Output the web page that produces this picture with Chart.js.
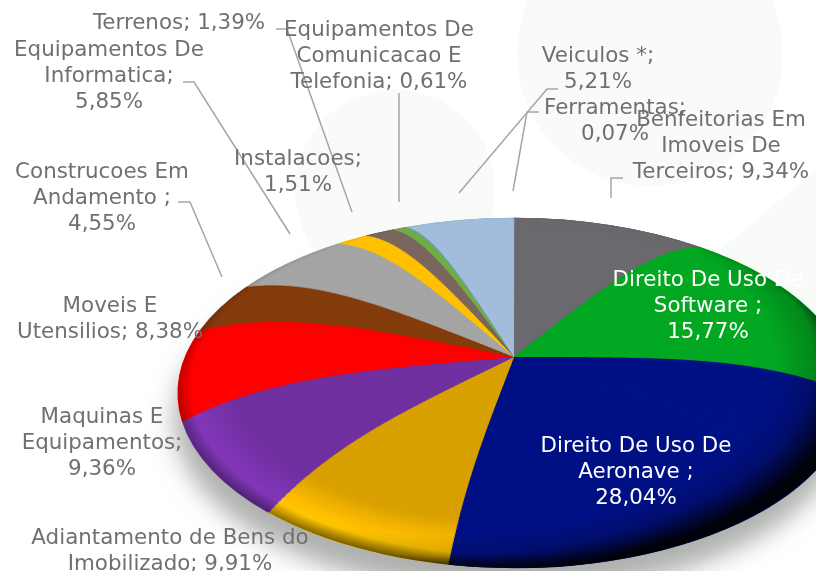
<!DOCTYPE html>
<html>
<head>
<meta charset="utf-8">
<style>
  html, body { margin: 0; padding: 0; background: #fff; }
  canvas { display: block; }
</style>
<script src="https://cdn.jsdelivr.net/npm/chart.js@4"></script>
</head>
<body>
<canvas id="imobilizadoChart" width="816" height="571"></canvas>
<script>
// Values, clockwise from 12 o'clock
const categories = [
    'Benfeitorias Em Imoveis De Terceiros', 'Direito De Uso De Software', 'Direito De Uso De Aeronave',
    'Adiantamento de Bens do Imobilizado', 'Maquinas E Equipamentos', 'Moveis E Utensilios',
    'Construcoes Em Andamento', 'Equipamentos De Informatica', 'Instalacoes', 'Terrenos',
    'Equipamentos De Comunicacao E Telefonia', 'Ferramentas', 'Veiculos *'
];
const percentages = [9.34, 15.77, 28.04, 9.91, 9.36, 8.38, 4.55, 5.85, 1.51, 1.39, 0.61, 0.07, 5.21];
const sliceColors = ['#6b6a6e', '#03a822', '#001185', '#d8a000', '#7030a0', '#ff0000', '#843c0c',
    '#a5a5a5', '#ffc000', '#7a675e', '#70ad47', '#5b9bd5', '#a3bcdc'];
// how much the rim of each slice lights up near the edge
const rimLight = [1, 1, 1, 1.24, 1.16, 1, 1, 1, 1, 1, 1, 1, 1];

// Label text, {v} is replaced with the value
const labelLines = [
    ['Benfeitorias Em', 'Imoveis De', 'Terceiros; {v}'],
    ['Direito De Uso De', 'Software ;', '{v}'],
    ['Direito De Uso De', 'Aeronave ;', '{v}'],
    ['Adiantamento de Bens do', 'Imobilizado; {v}'],
    ['Maquinas E', 'Equipamentos;', '{v}'],
    ['Moveis E', 'Utensilios; {v}'],
    ['Construcoes Em', 'Andamento ;', '{v}'],
    ['Equipamentos De', 'Informatica;', '{v}'],
    ['Instalacoes;', '{v}'],
    ['Terrenos; {v}'],
    ['Equipamentos De', 'Comunicacao E', 'Telefonia; {v}'],
    ['Ferramentas;', '{v}'],
    ['Veiculos *;', '{v}']
];
const labelCenters = [[721, 120], [708, 280], [636, 446], [170, 538], [102, 417], [110, 306], [102, 172],
    [109, 50], [298, 159], [179, 23], [379, 30], [615, 108], [598, 56]];
const leaderLines = [
    [[623, 178], [611, 178], [611, 198]],
    [[276, 29], [287, 29], [352, 212]],
    [[183, 82], [194, 82], [290, 234]],
    [[178, 202], [190, 202], [222, 277]],
    [[399, 93], [399, 202]],
    [[558, 89], [547, 89], [459, 193]],
    [[539, 112], [527, 112], [513, 191]]
];

// Where the pie sits: the rim is an ellipse, the slices meet above its centre
const rim = { x: 514, y: 393, rx: 336, ry: 175 };
const apexY = 357;
const shellCount = 180;

function rimPath(ctx) {
    ctx.beginPath();
    ctx.ellipse(rim.x, rim.y, rim.rx, rim.ry, 0, 0, Math.PI * 2);
}

// fills the pie with an elliptical gradient, centred dx/dy off the rim centre
function shadeRim(ctx, dx, dy, from, to, stops) {
    ctx.save();
    rimPath(ctx);
    ctx.clip();
    ctx.translate(rim.x + dx, rim.y + dy);
    ctx.scale(rim.rx, rim.ry);
    const shade = ctx.createRadialGradient(0, 0, from, 0, 0, to);
    stops.forEach(s => shade.addColorStop(s[0], s[1]));
    ctx.fillStyle = shade;
    ctx.fillRect(-2, -2, 4, 4);
    ctx.restore();
}

const backdrop = {
    id: 'backdrop',
    beforeDraw(chart) {
        const ctx = chart.ctx;
        ctx.save();
        ctx.fillStyle = '#ffffff';
        ctx.fillRect(0, 0, 816, 571);
        ctx.fillStyle = '#f8fbf8';
        ctx.beginPath();
        ctx.arc(650, 53, 133, 0, Math.PI * 2);
        ctx.fill();
        ctx.beginPath();
        ctx.arc(395, 190, 100, 0, Math.PI * 2);
        ctx.fill();
        ctx.beginPath();
        ctx.moveTo(816, 170);
        ctx.lineTo(816, 330);
        ctx.lineTo(720, 250);
        ctx.fill();
        // soft shadow below the pie
        ctx.shadowColor = 'rgba(120, 125, 120, 0.6)';
        ctx.shadowBlur = 24;
        ctx.shadowOffsetX = -4;
        ctx.shadowOffsetY = 26;
        ctx.fillStyle = '#c0c4c0';
        rimPath(ctx);
        ctx.fill();
        ctx.restore();
    }
};

// Draws the chart's own arcs as nested shells, so the slice edges bend towards the rim
const tiltedPie = {
    id: 'tiltedPie',
    beforeDatasetDraw(chart, args) {
        const ctx = chart.ctx;
        const arcs = args.meta.data;
        const px = arcs[0].x, py = arcs[0].y, radius = arcs[0].outerRadius;
        ctx.save();
        for (let s = shellCount; s > 0; s--) {
            const r = s / shellCount;
            const shiftY = (rim.y - apexY) * Math.pow(r, 4);
            ctx.save();
            ctx.translate(rim.x, apexY + shiftY);
            ctx.scale(r * rim.rx / radius, r * rim.ry / radius);
            ctx.translate(-px, -py);
            arcs.forEach((arc, i) => {
                let glow = 1;
                if (r > 0.84 && rimLight[i] !== 1) {
                    glow = 1 + (rimLight[i] - 1) * Math.min((r - 0.84) / 0.12, 1);
                }
                ctx.filter = glow !== 1 ? 'brightness(' + glow + ')' : 'none';
                arc.draw(ctx);
            });
            ctx.filter = 'none';
            ctx.restore();
        }
        ctx.restore();

        // dark crescent along the lower right of the rim
        shadeRim(ctx, -70, -30, 0.98, 1.22, [[0, 'rgba(0,0,0,0)'], [0.5, 'rgba(0,0,0,0.18)'], [1, 'rgba(0,0,0,0.9)']]);
        // thin dark lip on the lower edge
        shadeRim(ctx, 0, -6, 0.96, 1.03, [[0, 'rgba(0,0,0,0)'], [1, 'rgba(0,0,0,0.45)']]);
        return false;
    }
};

const pieLabels = {
    id: 'pieLabels',
    afterDatasetsDraw(chart) {
        const ctx = chart.ctx;
        ctx.save();
        ctx.strokeStyle = '#a6a6a6';
        ctx.lineWidth = 1.5;
        leaderLines.forEach(pts => {
            ctx.beginPath();
            pts.forEach((p, i) => i ? ctx.lineTo(p[0], p[1]) : ctx.moveTo(p[0], p[1]));
            ctx.stroke();
        });
        ctx.font = '21.4px "DejaVu Sans"';
        ctx.textAlign = 'center';
        ctx.textBaseline = 'middle';
        labelLines.forEach((lines, i) => {
            const value = percentages[i].toFixed(2).replace('.', ',') + '%';
            ctx.fillStyle = (i === 1 || i === 2) ? '#ffffff' : '#707070';
            lines.forEach((line, n) => {
                ctx.fillText(line.replace('{v}', value), labelCenters[i][0], labelCenters[i][1] + n * 26);
            });
        });
        ctx.restore();
    }
};

new Chart(document.getElementById('imobilizadoChart').getContext('2d'), {
    type: 'pie',
    data: {
        labels: categories,
        datasets: [{
            data: percentages,
            backgroundColor: sliceColors,
            borderColor: sliceColors,
            borderWidth: 1
        }]
    },
    options: {
        responsive: false,
        animation: false,
        events: [],
        plugins: {
            legend: { display: false },
            tooltip: { enabled: false }
        }
    },
    plugins: [backdrop, tiltedPie, pieLabels]
});
</script>
</body>
</html>
